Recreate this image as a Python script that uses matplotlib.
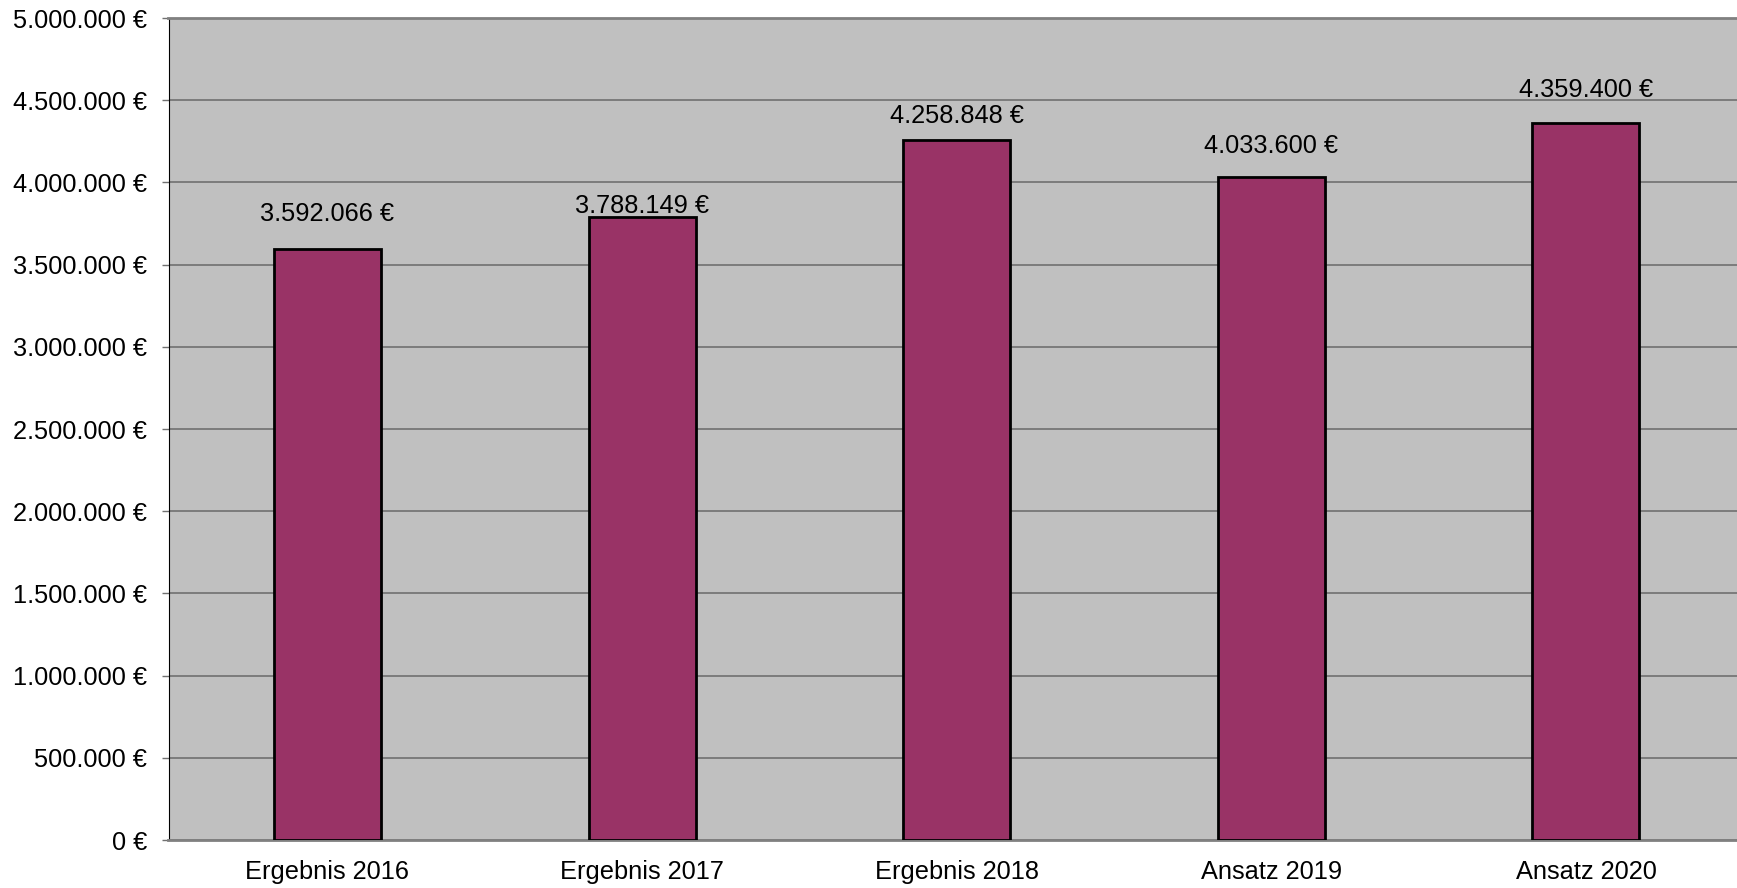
import numpy as np
import matplotlib.pyplot as plt
from matplotlib.ticker import FuncFormatter

# Werte aus der Grafik
kategorien = ["Ergebnis 2016", "Ergebnis 2017", "Ergebnis 2018", "Ansatz 2019", "Ansatz 2020"]
werte = [3592066, 3788149, 4258848, 4033600, 4359400]
# Abstand der Beschriftungsmitte über dem Balken (in Punkten), wie im Original uneinheitlich
label_abstand = [25.4, 8.2, 17.1, 22.2, 24.0]

plt.rcParams['font.family'] = ['Liberation Sans', 'DejaVu Sans']


def euro(v, pos=None):
    return f"{v:,.0f} €".replace(",", ".")


fig = plt.figure(figsize=(17.37, 8.88), dpi=100)
ax = fig.add_axes([168.5 / 1737, 48 / 888, 1568.5 / 1737, 822 / 888])
ax.set_facecolor("#C0C0C0")

x = np.arange(len(kategorien))
bars = ax.bar(x, werte, width=0.34, color="#993366", edgecolor="black", linewidth=2, zorder=3)

for b, v, off in zip(bars, werte, label_abstand):
    ax.annotate(euro(v), (b.get_x() + b.get_width() / 2, v), xytext=(0, off),
                textcoords="offset points", ha="center", va="center", fontsize=18.3,
                zorder=4)

ax.set_xlim(-0.505, 4.48)
ax.set_ylim(0, 5000000)
ax.set_yticks(np.arange(0, 5000001, 500000))
ax.yaxis.set_major_formatter(FuncFormatter(euro))
ax.set_xticks(x)
ax.set_xticklabels(kategorien)
ax.grid(axis="y", color="#707070", linewidth=1.2, zorder=1)

ax.tick_params(axis="y", length=5, width=1, color="#707070", labelsize=18.3, pad=10.5)
ax.tick_params(axis="x", length=0, labelsize=18.3, pad=14.5)
ax.spines["left"].set_color("black")
ax.spines["top"].set_color("#808080")
ax.spines["top"].set_linewidth(2)
ax.spines["bottom"].set_color("#808080")
ax.spines["bottom"].set_linewidth(2)
ax.spines["right"].set_visible(False)

fig.savefig("out.png", dpi=100)
